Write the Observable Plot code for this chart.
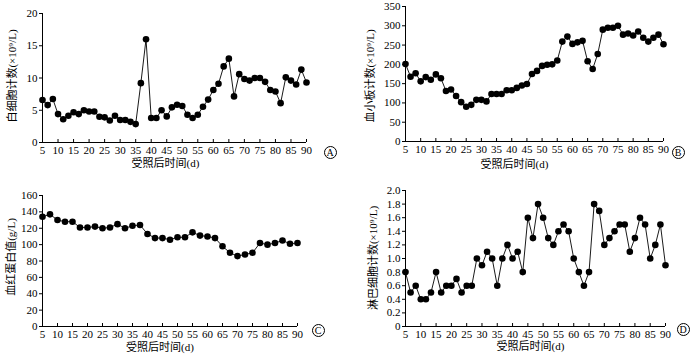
<!DOCTYPE html>
<html>
<head>
<meta charset="utf-8">
<script src="https://cdn.jsdelivr.net/npm/d3@7"></script>
<script src="https://cdn.jsdelivr.net/npm/@observablehq/plot@0.6"></script>
<style>
  html, body { margin: 0; padding: 0; background: #fff; }
  #wrap { position: relative; width: 700px; height: 358px; overflow: hidden;
          font-family: "Liberation Serif", "Noto Sans CJK SC", serif; }
  .pan { position: absolute; }
  .circ { position: absolute; width: 13px; height: 13px; border: 1px solid #000; border-radius: 50%;
          box-sizing: border-box; font: 10px "Liberation Serif", serif; line-height: 11px; text-align: center; color:#000; }
  .ytitle { position: absolute; white-space: nowrap; font-size: 11px; color: #000;
            transform: translate(-50%, -50%) rotate(-90deg); }
</style>
</head>
<body>
<div id="wrap"></div>
<script>
// ---- data ----
const dayTicks = [5, 10, 15, 20, 25, 30, 35, 40, 45, 50, 55, 60, 65, 70, 75, 80, 85, 90];
const xTitle = "受照后时间(d)";

// A: white blood cell count (×10⁹/L)
const wbc = [6.6, 5.8, 6.75, 4.4, 3.6, 4.15, 4.7, 4.4, 5.0, 4.8, 4.8, 4.0, 3.9, 3.4, 4.15, 3.5, 3.5, 3.2, 2.85,
  9.2, 16.0, 3.8, 3.8, 5.0, 4.05, 5.45, 5.85, 5.65, 4.3, 3.8, 4.3, 5.55, 6.65, 8.15, 9.1, 11.8, 13.0, 7.15,
  10.6, 9.85, 9.6, 10.0, 10.0, 9.4, 8.15, 7.9, 6.1, 10.1, 9.6, 9.0, 11.3, 9.3];
const wbcTicks = [0, 5, 10, 15, 20];

// B: platelet count (×10⁹/L)
const plt = [201, 168, 177, 156, 167, 160, 174, 164, 131, 135, 118, 102, 90, 95, 108, 108, 104, 123, 123, 123,
  133, 133, 139, 145, 149, 175, 183, 196, 199, 200, 210, 259, 272, 253, 257, 261, 208, 188, 227, 290, 295, 295,
  300, 277, 280, 275, 285, 269, 259, 269, 277, 252];
const pltTicks = [0, 50, 100, 150, 200, 250, 300, 350];

// C: haemoglobin (g/L)
const hgb = [134, 137, 130, 128, 128, 121, 121, 122, 120, 121, 125, 120, 123, 124, 113, 108, 108, 106, 109, 109,
  115, 111, 110, 108, 98, 90, 86, 88, 90, 102, 100, 102, 105, 101, 102];
const hgbTicks = [0, 20, 40, 60, 80, 100, 120, 140, 160];

// D: lymphocyte count (×10⁹/L)
const lym = [0.8, 0.5, 0.6, 0.4, 0.4, 0.5, 0.8, 0.5, 0.6, 0.6, 0.7, 0.5, 0.6, 0.6, 1.0, 0.9, 1.1, 1.0, 0.6, 1.0,
  1.2, 1.0, 1.1, 0.8, 1.6, 1.3, 1.8, 1.6, 1.3, 1.2, 1.4, 1.5, 1.4, 1.0, 0.8, 0.6, 0.8, 1.8, 1.7, 1.2, 1.3, 1.4,
  1.5, 1.5, 1.1, 1.3, 1.6, 1.5, 1.0, 1.2, 1.5, 0.9];
const lymTicks = [0, 0.2, 0.4, 0.6, 0.8, 1.0, 1.2, 1.4, 1.6, 1.8, 2.0];

const font = "'Liberation Serif', 'Noto Sans CJK SC', serif";
const wrap = document.getElementById("wrap");

function panel(o) {
  const n = o.values.length;
  const first = dayTicks[0], last = dayTicks[dayTicks.length - 1];
  const data = o.values.map((v, i) => ({day: first + i * (last - first) / (n - 1), v}));
  const frameH = o.height - o.mt - o.mb;
  const y0 = o.yTicks[0], y1 = o.yTicks[o.yTicks.length - 1];
  const chart = Plot.plot({
    width: 350, height: o.height,
    marginLeft: o.ml, marginRight: o.mr, marginTop: o.mt, marginBottom: o.mb,
    style: {fontFamily: font, fontSize: "11px", background: "transparent", color: "#000", overflow: "visible"},
    x: {domain: [first, last]},
    y: {domain: [y0, y1]},
    marks: [
      Plot.ruleY([y0], {stroke: "#000", strokeWidth: 1}),
      Plot.ruleX([first], {stroke: "#000", strokeWidth: 1}),
      Plot.axisY({ticks: o.yTicks, tickSize: 3, tickPadding: 2, label: null,
                  tickFormat: o.yFormat || (d => String(d))}),
      Plot.axisX({ticks: dayTicks, tickSize: 0, tickPadding: 4, label: null, tickFormat: d => String(d)}),
      Plot.ruleX(dayTicks, {x: d => d, stroke: "#000", strokeWidth: 1, insetTop: frameH - 3}),
      Plot.line(data, {x: "day", y: "v", stroke: "#000", strokeWidth: 0.9}),
      Plot.dot(data, {x: "day", y: "v", r: 3.3, fill: "#000", stroke: "none"}),
      Plot.text([xTitle], {frameAnchor: "bottom", dy: o.xtDy, dx: o.xtDx, fontSize: 11, fill: "#000"})
    ]
  });
  chart.classList.add("pan");
  chart.style.left = o.left + "px";
  chart.style.top = o.top + "px";
  wrap.appendChild(chart);

  const t = document.createElement("div");
  t.className = "ytitle";
  t.textContent = o.yTitle;
  t.style.left = o.ytx + "px";
  t.style.top = o.yty + "px";
  wrap.appendChild(t);

  const c = document.createElement("div");
  c.className = "circ";
  c.textContent = o.letter;
  c.style.left = (o.cx - 6.5) + "px";
  c.style.top = (o.cy - 6.5) + "px";
  wrap.appendChild(c);
}

panel({values: wbc, yTicks: wbcTicks, yTitle: "白细胞计数(×10⁹/L)", left: 0, top: 0, height: 180,
       ml: 42, mr: 44, mt: 13, mb: 38, ytx: 11, yty: 76, xtDy: 24, xtDx: -9, letter: "A", cx: 330, cy: 152});
panel({values: plt, yTicks: pltTicks, yTitle: "血小板计数(×10⁹/L)", left: 350, top: 0, height: 180,
       ml: 55, mr: 37, mt: 6, mb: 39, ytx: 369, yty: 76, xtDy: 26, xtDx: -20, letter: "B", cx: 678, cy: 152});
panel({values: hgb, yTicks: hgbTicks, yTitle: "血红蛋白值(g/L)", left: 0, top: 175, height: 183,
       ml: 42, mr: 53, mt: 20, mb: 32, ytx: 10, yty: 257, xtDy: 24, xtDx: -10, letter: "C", cx: 318, cy: 330});
panel({values: lym, yTicks: lymTicks, yTitle: "淋巴细胞计数(×10⁹/L)", left: 350, top: 175, height: 183,
       ml: 55, mr: 35, mt: 15, mb: 32, ytx: 372, yty: 258, xtDy: 23, xtDx: -5, letter: "D", cx: 683, cy: 329,
       yFormat: d => d === 0 ? "0" : d.toFixed(1)});
</script>
</body>
</html>
